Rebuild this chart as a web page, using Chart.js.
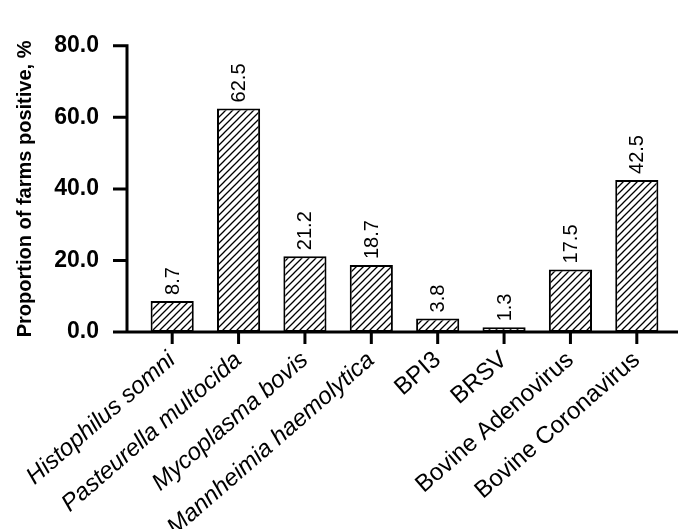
<!DOCTYPE html>
<html>
<head>
<meta charset="utf-8">
<script src="https://cdn.jsdelivr.net/npm/chart.js@4/dist/chart.umd.min.js"></script>
<style>
  html, body { margin: 0; padding: 0; background: #fff; }
  #wrap { width: 678px; height: 529px; }
</style>
</head>
<body>
<div id="wrap"><canvas id="chart"></canvas></div>
<script>
const categories = ['Histophilus somni', 'Pasteurella multocida', 'Mycoplasma bovis', 'Mannheimia haemolytica',
  'BPI3', 'BRSV', 'Bovine Adenovirus', 'Bovine Coronavirus'];
const italicCount = 4; // first four are bacteria names, set in italics
const positive = [8.7, 62.5, 21.2, 18.7, 3.8, 1.3, 17.5, 42.5];
const yTicks = [0, 20, 40, 60, 80];

const FAMILY = '"Liberation Sans", Arial, Helvetica, sans-serif';
Chart.defaults.color = '#000';
Chart.defaults.font.family = FAMILY;

function makeHatch() {
  const c = document.createElement('canvas');
  c.width = 7; c.height = 7;
  const g = c.getContext('2d');
  g.fillStyle = '#fff';
  g.fillRect(0, 0, 7, 7);
  g.strokeStyle = '#000';
  g.lineWidth = 1.3;
  g.beginPath();
  g.moveTo(-1, 8); g.lineTo(8, -1);
  g.moveTo(-1, 1); g.lineTo(1, -1);
  g.moveTo(6, 8); g.lineTo(8, 6);
  g.stroke();
  return g.createPattern(c, 'repeat');
}

// axis lines and tick marks, drawn a little apart from the plot like the original
const axesPlugin = {
  id: 'axes',
  afterDatasetsDraw(chart) {
    const ctx = chart.ctx;
    const xs = chart.scales.x, ys = chart.scales.y;
    const area = chart.chartArea;
    const axisX = area.left - 12;
    const base = ys.getPixelForValue(0);
    ctx.save();
    ctx.strokeStyle = '#000';
    ctx.lineWidth = 3;
    ctx.beginPath();
    ctx.moveTo(axisX, ys.getPixelForValue(yTicks[yTicks.length - 1]) - 1.5);
    ctx.lineTo(axisX, base + 1.5);
    ctx.moveTo(axisX - 1.5, base);
    ctx.lineTo(chart.width, base);
    yTicks.forEach(v => {
      const py = ys.getPixelForValue(v);
      ctx.moveTo(axisX - 14, py);
      ctx.lineTo(axisX, py);
    });
    categories.forEach((c, i) => {
      const px = xs.getPixelForTick(i);
      ctx.moveTo(px, base);
      ctx.lineTo(px, base + 12);
    });
    ctx.stroke();
    ctx.restore();
  }
};

const valueLabels = {
  id: 'valueLabels',
  afterDatasetsDraw(chart) {
    const ctx = chart.ctx;
    const meta = chart.getDatasetMeta(0);
    ctx.save();
    ctx.fillStyle = '#000';
    ctx.font = '20px ' + FAMILY;
    ctx.textAlign = 'left';
    ctx.textBaseline = 'middle';
    meta.data.forEach((bar, i) => {
      ctx.save();
      ctx.translate(bar.x, bar.y - 6);
      ctx.rotate(-Math.PI / 2);
      ctx.fillText(positive[i].toFixed(1), 0, 1);
      ctx.restore();
    });
    ctx.restore();
  }
};

new Chart(document.getElementById('chart'), {
  type: 'bar',
  data: {
    labels: categories,
    datasets: [{
      data: positive,
      backgroundColor: makeHatch(),
      borderColor: '#000',
      borderWidth: 2,
      borderSkipped: false,
      categoryPercentage: 1,
      barPercentage: 0.65
    }]
  },
  options: {
    responsive: true,
    maintainAspectRatio: false,
    animation: false,
    layout: { padding: { top: 44, right: 8, bottom: 0, left: 0 } },
    plugins: { legend: { display: false }, tooltip: { enabled: false } },
    scales: {
      x: {
        offset: true,
        grid: { display: false },
        border: { display: false },
        ticks: {
          autoSkip: false,
          minRotation: 41,
          maxRotation: 41,
          padding: 6,
          font: ctx => ({ family: FAMILY, size: 24, style: ctx.index < italicCount ? 'italic' : 'normal' })
        },
        afterFit: s => { s.height = 197; }
      },
      y: {
        min: 0,
        max: 80,
        grid: { display: false },
        border: { display: false },
        ticks: {
          stepSize: 20,
          padding: 32,
          font: { family: FAMILY, size: 23, weight: 'bold' },
          callback: v => v.toFixed(1)
        },
        title: {
          display: true,
          text: 'Proportion of farms positive, %',
          font: { family: FAMILY, size: 20, weight: 'bold' },
          padding: { top: 13, bottom: 0 }
        },
        afterFit: s => { s.width = 139; }
      }
    }
  },
  plugins: [axesPlugin, valueLabels]
});
</script>
</body>
</html>
